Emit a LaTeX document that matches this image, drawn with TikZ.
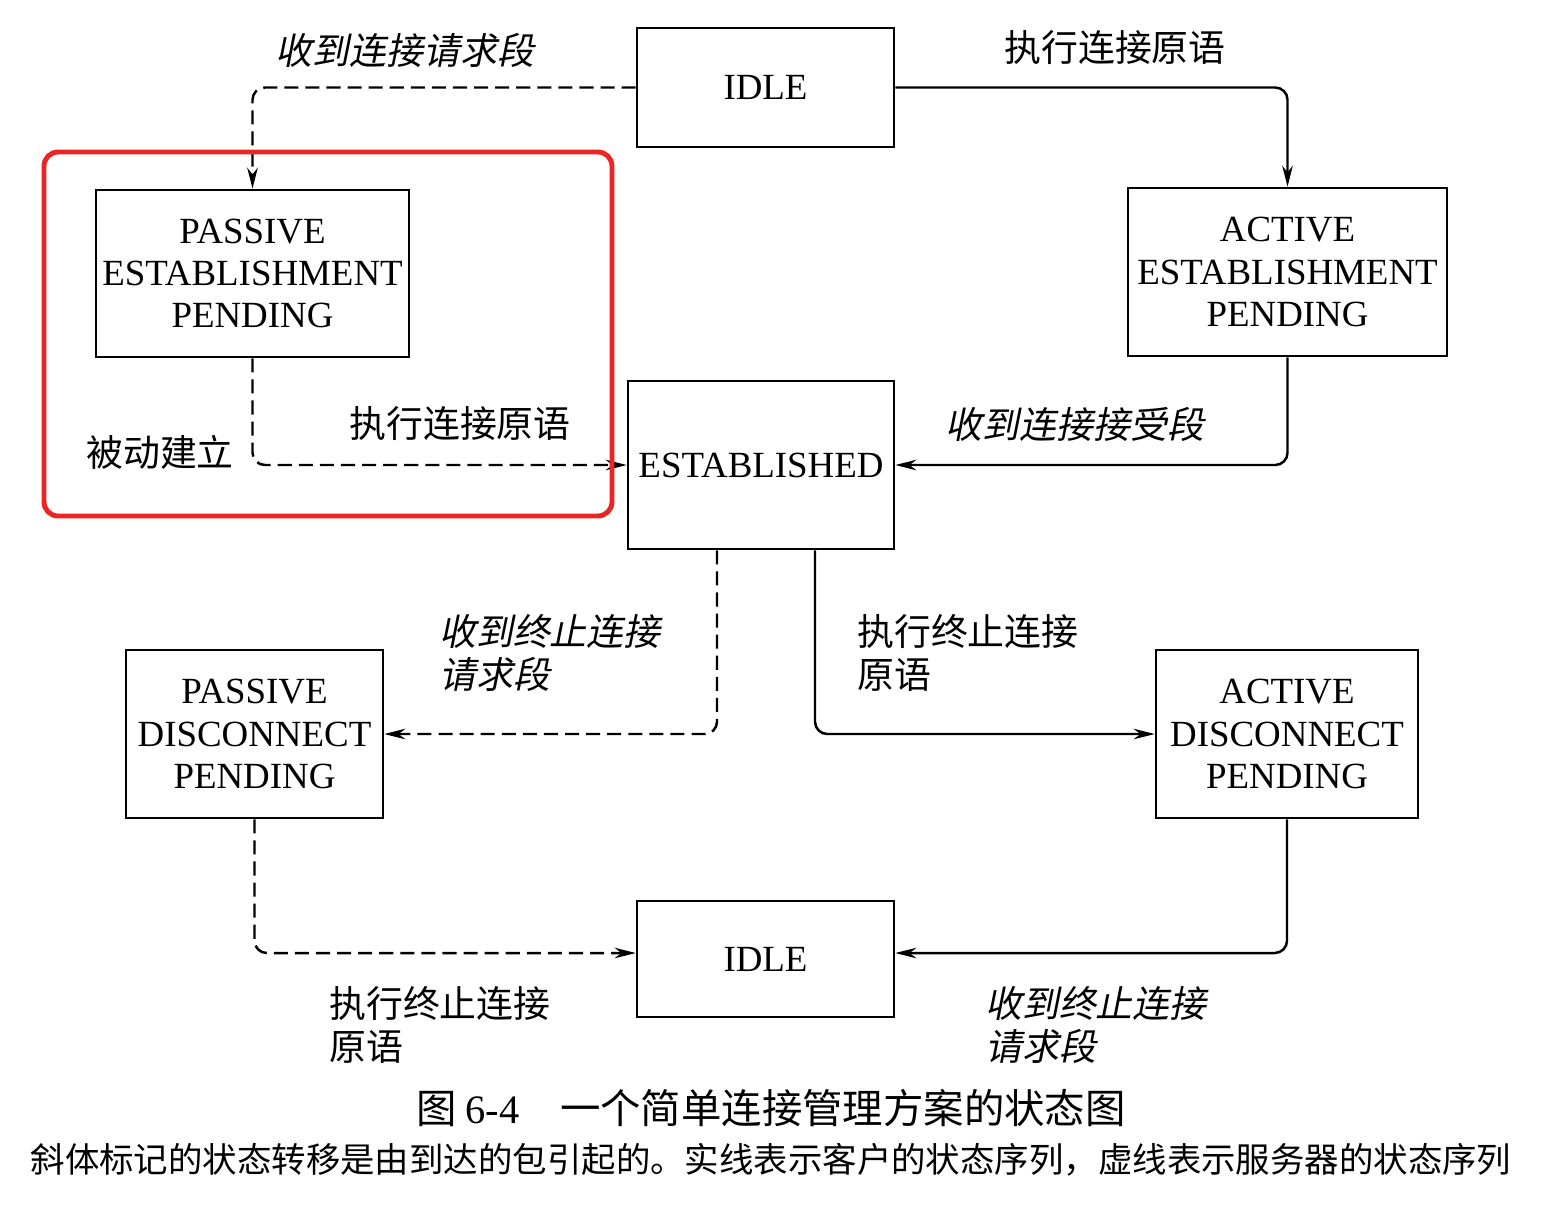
\documentclass[tikz,border=0pt]{standalone}
\usepackage{fontspec}
\setmainfont{Liberation Serif}
\newfontfamily\cjk{Noto Sans CJK SC}
\newfontfamily\cjkit[FakeSlant=0.2]{Noto Sans CJK SC}
\usepackage{tikz}
\usetikzlibrary{positioning}
\usetikzlibrary{arrows.meta}
\definecolor{markred}{RGB}{236,36,36}

\begin{document}
\begin{tikzpicture}[x=0.02cm,y=-0.02cm,>={Stealth[length=12pt,width=6pt]},
	state/.style={draw,line width=1.5pt,align=center,inner sep=0pt,font=\fontsize{21}{24}\selectfont},
	client/.style={->,line width=1.4pt,rounded corners=7pt},
	server/.style={client,dash pattern=on 8pt off 4pt},
	lbl/.style={align=left,font=\cjk\fontsize{21}{24}\selectfont},
	pkt/.style={align=left,font=\cjkit\fontsize{21}{24}\selectfont}]
	\useasboundingbox (0,0) rectangle (1558,1208);
	% states
	\node[state,minimum width=5.14cm,minimum height=2.38cm] (idle) at (765.5,87.5) {IDLE};
	\node[state,minimum width=6.26cm,minimum height=3.34cm] (pest) at (252.5,273.5) {PASSIVE\\ESTABLISHMENT\\PENDING};
	\node[state,minimum width=6.38cm,minimum height=3.36cm] (aest) at (1287.5,272) {ACTIVE\\ESTABLISHMENT\\PENDING};
	\node[state,minimum width=5.32cm,minimum height=3.36cm] (estab) at (761,465) {ESTABLISHED};
	\node[state,minimum width=5.14cm,minimum height=3.36cm] (pdis) at (254.5,734) {PASSIVE\\DISCONNECT\\PENDING};
	\node[state,minimum width=5.24cm,minimum height=3.36cm] (adis) at (1287,734) {ACTIVE\\DISCONNECT\\PENDING};
	\node[state,minimum width=5.14cm,minimum height=2.32cm] (idle2) at (765.5,959) {IDLE};
	% transitions
	\draw[server] (idle.west) -| (pest.north);
	\draw[client] (idle.east) -| (aest.north);
	\draw[server] (pest.south) |- (estab.west);
	\draw[client] (aest.south) |- (estab.east);
	\draw[server] ([xshift=-0.88cm]estab.south) |- (pdis.east);
	\draw[client] ([xshift=1.08cm]estab.south) |- (adis.west);
	\draw[server] (pdis.south) |- ([yshift=0.12cm]idle2.west);
	\draw[client] (adis.south) |- ([yshift=0.12cm]idle2.east);
	% labels
	\node[pkt] (l1) at (405,50) {收到连接请求段};
	\node[lbl] (l2) at (1115,48) {执行连接原语};
	\node[lbl] (l3) at (160,452) {被动建立};
	\node[lbl] (l4) at (460,424) {执行连接原语};
	\node[pkt] (l5) at (1075,424) {收到连接接受段};
	\node[pkt,anchor=west] (l6) at (433,653) {收到终止连接\\请求段};
	\node[lbl,anchor=west] (l7) at (851,653) {执行终止连接\\原语};
	\node[lbl,anchor=west] (l8) at (323,1025) {执行终止连接\\原语};
	\node[pkt,anchor=west] (l9) at (979,1025) {收到终止连接\\请求段};
	% highlight
	\draw[markred,line width=2.8pt,rounded corners=8pt] (44,152) rectangle (612,516);
	% caption
	\node[font=\cjk\fontsize{23}{26}\selectfont] (cap) at (771,1108) {图 {\rmfamily 6-4}\quad 一个简单连接管理方案的状态图};
	\node[font=\cjk\fontsize{19.6}{22}\selectfont] (note) at (771,1160) {斜体标记的状态转移是由到达的包引起的。实线表示客户的状态序列，虚线表示服务器的状态序列};
\end{tikzpicture}
\end{document}
